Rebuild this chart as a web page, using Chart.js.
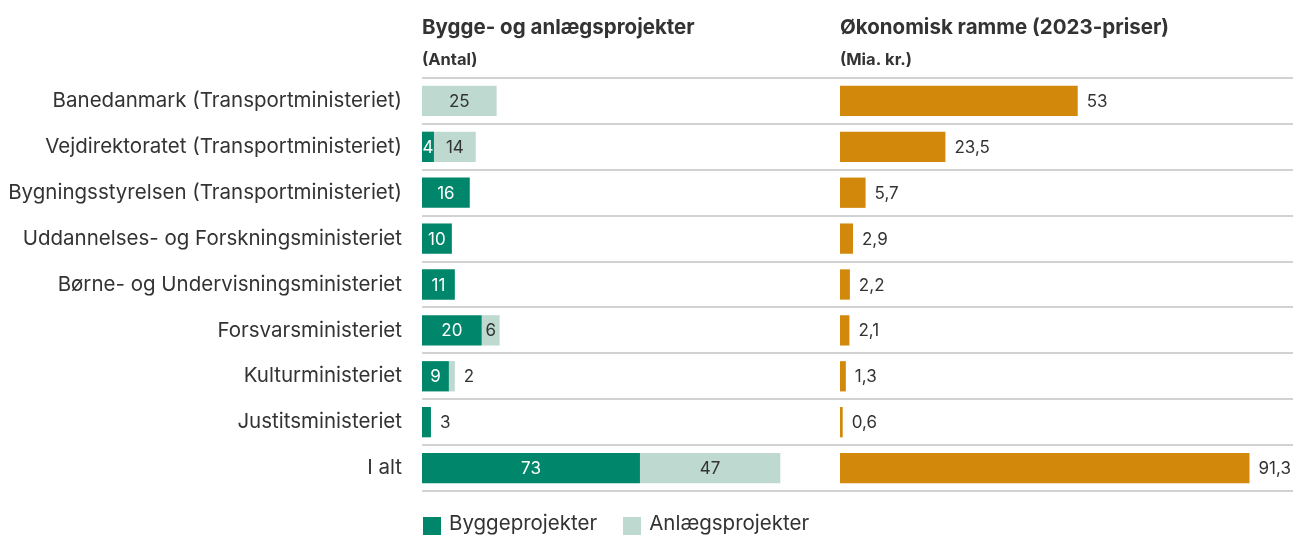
<!DOCTYPE html>
<html lang="da">
<head>
<meta charset="utf-8">
<script src="https://cdn.jsdelivr.net/npm/chart.js@4.4.0/dist/chart.umd.min.js"></script>
<style>
  body { margin: 0; background: #fff; }
  #wrap { position: relative; width: 1293px; height: 536px; overflow: hidden; }
  #legend { position: absolute; left: 423px; top: 511px; display: flex; font: 20.5px/24px Inter, sans-serif; color: #333; }
  #legend span { display: flex; align-items: flex-start; margin-right: 26px; }
  #legend i { display: inline-block; width: 18px; height: 18px; margin-top: 6px; margin-right: 8px; }
</style>
</head>
<body>
<div id="wrap">
  <canvas id="chart" width="1293" height="536"></canvas>
  <div id="legend"></div>
</div>
<script>
// data
const categories = [
  'Banedanmark (Transportministeriet)',
  'Vejdirektoratet (Transportministeriet)',
  'Bygningsstyrelsen (Transportministeriet)',
  'Uddannelses- og Forskningsministeriet',
  'Børne- og Undervisningsministeriet',
  'Forsvarsministeriet',
  'Kulturministeriet',
  'Justitsministeriet',
  'I alt'
];
const byggeprojekter = [0, 4, 16, 10, 11, 20, 9, 3, 73];
const anlaegsprojekter = [25, 14, 0, 0, 0, 6, 2, 0, 47];
const ramme = [53, 23.5, 5.7, 2.9, 2.2, 2.1, 1.3, 0.6, 91.3];
const panelTitles = ['Bygge- og anlægsprojekter', 'Økonomisk ramme (2023-priser)'];
const panelUnits = ['(Antal)', '(Mia. kr.)'];

const GREEN = '#00866a';
const LIGHT = '#bed9cf';
const ORANGE = '#d2880a';
const TEXT = '#333333';
const FONT = 'Inter, sans-serif';

// dansk decimalkomma
function fmt(v) {
  return String(v).replace('.', ',');
}

// overskrifter over hvert panel
const panelHeaders = {
  id: 'panelHeaders',
  afterDraw(chart) {
    const ctx = chart.ctx;
    ctx.save();
    ctx.fillStyle = TEXT;
    ctx.textAlign = 'left';
    ctx.textBaseline = 'alphabetic';
    ['x', 'x2'].forEach((id, k) => {
      const s = chart.scales[id];
      ctx.font = 'bold 20.5px ' + FONT;
      ctx.fillText(panelTitles[k], s.left, 34);
      ctx.font = 'bold 16.5px ' + FONT;
      ctx.fillText(panelUnits[k], s.left, 65);
    });
    ctx.restore();
  }
};

// værdietiketter på søjlerne
const valueLabels = {
  id: 'valueLabels',
  afterDatasetsDraw(chart) {
    const ctx = chart.ctx;
    ctx.save();
    ctx.font = '17px ' + FONT;
    ctx.textBaseline = 'middle';
    const m0 = chart.getDatasetMeta(0).data;
    const m1 = chart.getDatasetMeta(1).data;
    [0, 1].forEach(d => {
      const vals = chart.data.datasets[d].data;
      chart.getDatasetMeta(d).data.forEach((bar, i) => {
        const v = vals[i];
        if (!v) return;
        const p = bar.getProps(['x', 'y', 'base'], true);
        const w = p.x - p.base;
        const tw = ctx.measureText(fmt(v)).width;
        if (w + 1 >= tw) {
          ctx.textAlign = 'center';
          ctx.fillStyle = d === 0 ? '#ffffff' : TEXT;
          ctx.fillText(fmt(v), (p.x + p.base) / 2, p.y + 1);
        } else {
          const end = Math.max(m0[i].getProps(['x'], true).x, m1[i].getProps(['x'], true).x);
          ctx.textAlign = 'left';
          ctx.fillStyle = TEXT;
          ctx.fillText(fmt(v), end + 9, p.y + 1);
        }
      });
    });
    const vals = chart.data.datasets[2].data;
    chart.getDatasetMeta(2).data.forEach((bar, i) => {
      const p = bar.getProps(['x', 'y'], true);
      ctx.textAlign = 'left';
      ctx.fillStyle = TEXT;
      ctx.fillText(fmt(vals[i]), p.x + 9, p.y + 1);
    });
    ctx.restore();
  }
};

const barOpts = { barPercentage: 0.66, categoryPercentage: 1, stack: 'a', borderWidth: 0 };
const hiddenAxis = {
  ticks: { display: false },
  grid: { display: false, drawTicks: false },
  border: { display: false }
};

new Chart(document.getElementById('chart'), {
  type: 'bar',
  data: {
    labels: categories,
    datasets: [
      Object.assign({ label: 'Byggeprojekter', data: byggeprojekter, backgroundColor: GREEN, xAxisID: 'x' }, barOpts),
      Object.assign({ label: 'Anlægsprojekter', data: anlaegsprojekter, backgroundColor: LIGHT, xAxisID: 'x' }, barOpts),
      Object.assign({ label: 'Økonomisk ramme', data: ramme, backgroundColor: ORANGE, xAxisID: 'x2' }, barOpts)
    ]
  },
  options: {
    indexAxis: 'y',
    responsive: false,
    animation: false,
    layout: { padding: { top: 78, bottom: 45, left: 0, right: 0 } },
    plugins: {
      legend: { display: false },
      tooltip: { enabled: false }
    },
    scales: {
      // top-akser sorteres faldende efter weight, så venstre panel får højest
      x: Object.assign({
        position: 'top', stack: 'panels', stackWeight: 418, weight: 2,
        stacked: true, min: 0, max: 140
      }, hiddenAxis),
      x2: Object.assign({
        position: 'top', stack: 'panels', stackWeight: 453, weight: 1,
        min: 0, max: 101
      }, hiddenAxis),
      y: {
        stacked: true,
        afterFit(s) { s.width = 422; },
        ticks: { autoSkip: false, padding: 20, color: TEXT, font: { family: FONT, size: 20.5 } },
        grid: { offset: true, drawTicks: false, color: '#d2d2d2', lineWidth: 2 },
        border: { display: false }
      }
    }
  },
  plugins: [panelHeaders, valueLabels]
});

// forklaring under diagrammet
const legend = document.getElementById('legend');
[['Byggeprojekter', GREEN], ['Anlægsprojekter', LIGHT]].forEach(([t, c]) => {
  const s = document.createElement('span');
  s.innerHTML = '<i style="background:' + c + '"></i>' + t;
  legend.appendChild(s);
});
</script>
</body>
</html>
